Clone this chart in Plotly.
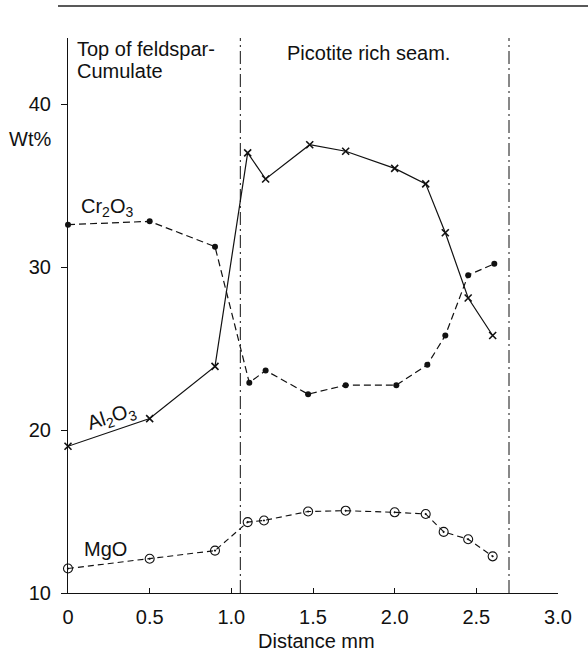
import plotly.graph_objects as go

# Data
al_x = [0.0, 0.5, 0.9, 1.1, 1.21, 1.48, 1.7, 2.0, 2.19, 2.31, 2.45, 2.6]
al_y = [19.0, 20.7, 23.9, 37.0, 35.4, 37.5, 37.1, 36.05, 35.1, 32.1, 28.1, 25.8]

cr_x = [0.0, 0.5, 0.9, 1.11, 1.21, 1.47, 1.7, 2.01, 2.2, 2.31, 2.45, 2.61]
cr_y = [32.6, 32.8, 31.25, 22.9, 23.65, 22.2, 22.75, 22.75, 24.0, 25.8, 29.5, 30.2]

mg_x = [0.0, 0.5, 0.9, 1.1, 1.2, 1.47, 1.7, 2.0, 2.19, 2.3, 2.45, 2.6]
mg_y = [11.5, 12.1, 12.6, 14.35, 14.45, 15.0, 15.05, 14.95, 14.85, 13.75, 13.3, 12.25]

boundaries = [1.055, 2.70]
x_ticks = [0, 0.5, 1.0, 1.5, 2.0, 2.5, 3.0]
x_tick_text = ["0", "0.5", "1.0", "1.5", "2.0", "2.5", "3.0"]
y_ticks = [10, 20, 30, 40]

FONT = "Liberation Sans, Arial, sans-serif"
INK = "#111111"

fig = go.Figure()

fig.add_trace(go.Scatter(
    x=al_x, y=al_y, mode="lines+markers", name="Al2O3",
    line=dict(color=INK, width=1.2),
    marker=dict(symbol="x-thin", size=7, line=dict(color=INK, width=1.6)),
    cliponaxis=False, showlegend=False,
))
fig.add_trace(go.Scatter(
    x=cr_x, y=cr_y, mode="lines+markers", name="Cr2O3",
    line=dict(color=INK, width=1.2, dash="7px,4px"),
    marker=dict(symbol="circle", size=6, color=INK),
    cliponaxis=False, showlegend=False,
))
fig.add_trace(go.Scatter(
    x=mg_x, y=mg_y, mode="lines+markers", name="MgO",
    line=dict(color=INK, width=1.1, dash="6px,4px"),
    marker=dict(symbol="circle-open-dot", size=9, color=INK, line=dict(color=INK, width=1.1)),
    cliponaxis=False, showlegend=False,
))

Y_TOP = 44.05
for b in boundaries:
    fig.add_shape(type="line", xref="x", yref="y", x0=b, x1=b, y0=10, y1=Y_TOP,
                  line=dict(color=INK, width=1.0, dash="13px,4px,2px,4px"))

# page rule at top
L, T, W, H = 68, 38, 490, 555
def px(xp):
    return (xp - L) / W
def py(yp):
    return (T + H - yp) / H

fig.add_shape(type="line", xref="paper", yref="paper", x0=px(58), x1=px(588),
              y0=py(6), y1=py(6), line=dict(color="#222222", width=1.5))

def ann(text, x, y, xanchor="left", angle=0, size=20):
    fig.add_annotation(text=text, xref="paper", yref="paper", x=px(x), y=py(y),
                       xanchor=xanchor, yanchor="middle", showarrow=False,
                       textangle=angle, font=dict(family=FONT, size=size, color=INK))

ann("Top of feldspar-", 75, 49)
ann("Cumulate", 75, 71)
ann("Picotite rich seam.", 285, 53)
ann("Wt%", 30, 139, xanchor="center")
ann("Cr<sub>2</sub>O<sub>3</sub>", 79, 207)
ann("Al<sub>2</sub>O<sub>3</sub>", 111, 417, xanchor="center", angle=-18)
ann("MgO", 82, 549)
ann("Distance mm", 316, 641, xanchor="center")

fig.update_layout(
    width=588, height=653,
    margin=dict(l=L, r=588 - L - W, t=T, b=653 - T - H),
    paper_bgcolor="white", plot_bgcolor="white",
    font=dict(family=FONT, size=20, color=INK),
    showlegend=False,
)
fig.update_xaxes(
    range=[0, 3.0], showgrid=False, zeroline=False,
    showline=True, linecolor=INK, linewidth=1.2,
    ticks="inside", ticklen=5, tickwidth=1.2, tickcolor=INK,
    tickvals=x_ticks, ticktext=x_tick_text, ticklabelstandoff=6,
    tickfont=dict(family=FONT, size=20, color=INK),
)
fig.update_yaxes(
    range=[10, Y_TOP], showgrid=False, zeroline=False,
    showline=True, linecolor=INK, linewidth=1.2,
    ticks="outside", ticklen=6, tickwidth=1.2, tickcolor=INK,
    tickvals=y_ticks, ticklabelstandoff=6,
    tickfont=dict(family=FONT, size=20, color=INK),
)

fig.write_html(
    "out.html",
    config={"displayModeBar": False},
    post_script="document.body.style.margin='0';document.body.style.padding='0';document.body.style.overflow='hidden';",
)
